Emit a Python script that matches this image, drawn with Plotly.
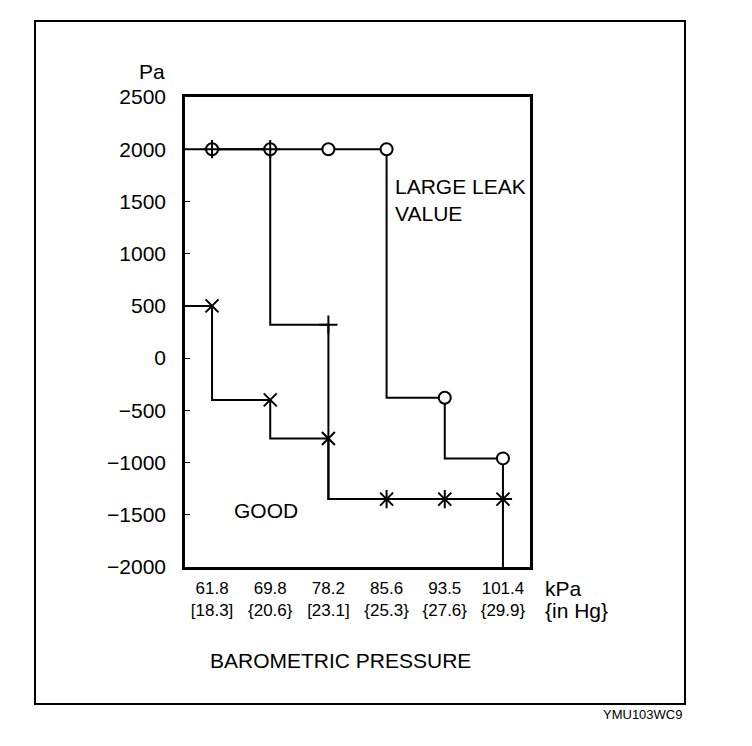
import plotly.graph_objects as go

# ---- data ----
pressure_kpa = ["61.8", "69.8", "78.2", "85.6", "93.5", "101.4"]
pressure_inhg = ["[18.3]", "{20.6}", "[23.1]", "{25.3}", "{27.6}", "{29.9}"]
large_leak = [2000, 2000, 2000, 2000, -380, -960]      # open circles
plus_series = [2000, 2000, 320, -1350, -1350, -1350]    # "+" markers
good_series = [500, -400, -770, -1350, -1350, -1350]    # "x" markers
y_ticks = [2500, 2000, 1500, 1000, 500, 0, -500, -1000, -1500, -2000]

Y_MIN, Y_MAX = -2000, 2500
X_MIN, X_MAX = -0.465, 5.465

idx = list(range(len(pressure_kpa)))
ticktext = [f"{a}<br>{b}" for a, b in zip(pressure_kpa, pressure_inhg)]

FONT = "Arial, Liberation Sans, Helvetica, sans-serif"
fig = go.Figure()

line_style = dict(color="black", width=2, shape="vh")

# step lines (drawn first)
fig.add_trace(go.Scatter(x=[X_MIN] + idx + [idx[-1]],
                         y=[large_leak[0]] + large_leak + [Y_MIN],
                         mode="lines", line=line_style, hoverinfo="skip"))
fig.add_trace(go.Scatter(x=idx, y=plus_series, mode="lines",
                         line=line_style, hoverinfo="skip"))
fig.add_trace(go.Scatter(x=[X_MIN] + idx, y=[good_series[0]] + good_series,
                         mode="lines", line=line_style, hoverinfo="skip"))

# markers on top
fig.add_trace(go.Scatter(x=idx, y=large_leak, mode="markers",
                         marker=dict(symbol="circle", size=12, color="white",
                                     line=dict(color="black", width=2))))
fig.add_trace(go.Scatter(x=idx, y=plus_series, mode="markers",
                         marker=dict(symbol="cross-thin-open", size=13, color="black",
                                     line=dict(color="black", width=2))))
fig.add_trace(go.Scatter(x=idx, y=good_series, mode="markers",
                         marker=dict(symbol="x-thin-open", size=13, color="black",
                                     line=dict(color="black", width=2))))

# page offset (body margin) and plot area in page pixels: x 185..530, y 97..567
OFF = 8
FIG_W, FIG_H = 752 - 2 * OFF, 746 - 2 * OFF
L, R, T, B = 185, 530, 97, 567
W, H = R - L, B - T
def px(x):
    return (x - L) / W
def py(y):
    return (B - y) / H

annotations = [
    dict(text="LARGE LEAK<br>VALUE", x=px(393), y=py(199.5), xanchor="left",
         yanchor="middle", align="left", font=dict(size=21)),
    dict(text="GOOD", x=px(232), y=py(510), xanchor="left", yanchor="middle",
         font=dict(size=21)),
    dict(text="Pa", x=px(167), y=py(71), xanchor="right", yanchor="middle",
         font=dict(size=21)),
    dict(text="kPa", x=px(543), y=py(588), xanchor="left", yanchor="middle",
         font=dict(size=21)),
    dict(text="{in Hg}", x=px(543), y=py(610), xanchor="left", yanchor="middle",
         font=dict(size=21)),
    dict(text="BAROMETRIC PRESSURE", x=px(340), y=py(660), xanchor="center",
         yanchor="middle", font=dict(size=21)),
    dict(text="YMU103WC9", x=px(684), y=py(714), xanchor="right",
         yanchor="middle", font=dict(size=13)),
]
for a in annotations:
    a.update(xref="paper", yref="paper", showarrow=False)
    a["font"].update(family=FONT, color="black")

fig.update_layout(
    width=FIG_W, height=FIG_H,
    margin=dict(l=L - OFF, r=FIG_W - (R - OFF), t=T - OFF, b=FIG_H - (B - OFF)),
    paper_bgcolor="white", plot_bgcolor="white",
    showlegend=False,
    font=dict(family=FONT, color="black"),
    annotations=annotations,
    shapes=[dict(type="rect", xref="paper", yref="paper",
                 x0=px(35), x1=px(685), y0=py(704), y1=py(21),
                 line=dict(color="black", width=2))],
    xaxis=dict(range=[X_MIN, X_MAX], tickvals=idx, ticktext=ticktext,
               showgrid=False, zeroline=False, showline=True, linecolor="black",
               linewidth=2.5, mirror=True, ticks="", ticklabelstandoff=4,
               tickfont=dict(size=17, family=FONT, color="black")),
    yaxis=dict(range=[Y_MIN, Y_MAX], tickvals=y_ticks, showgrid=False,
               zeroline=False, showline=True, linecolor="black", linewidth=2.5,
               mirror=True, ticks="inside", ticklen=5, tickcolor="black",
               ticklabelstandoff=12,
               tickfont=dict(size=21, family=FONT, color="black")),
)

fig.write_html("out.html")
